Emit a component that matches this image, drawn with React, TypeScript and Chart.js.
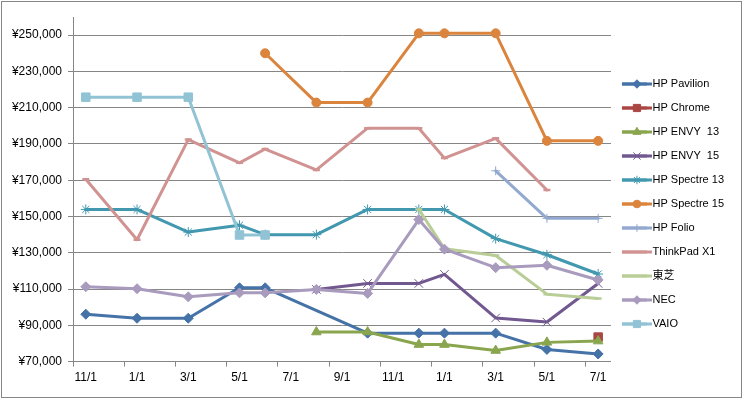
import React, { useEffect, useRef } from 'react';
import { Chart, registerables } from 'chart.js';
import { drawPoint } from 'chart.js/helpers';

Chart.register(...registerables);

// x positions of the observations, in months counted from the first "11/1"
const pointMonths = [0, 2, 4, 6, 7, 9, 11, 13, 14, 16, 18, 20];

// labelled ticks on the month axis
const tickMonths = [0, 2, 4, 6, 8, 10, 12, 14, 16, 18, 20];
const tickLabels = ['11/1', '1/1', '3/1', '5/1', '7/1', '9/1', '11/1', '1/1', '3/1', '5/1', '7/1'];

// y axis tick values
const yTicks = [70000, 90000, 110000, 130000, 150000, 170000, 190000, 210000, 230000, 250000];

const seriesNames = [
  'HP Pavilion', 'HP Chrome', 'HP ENVY  13', 'HP ENVY  15', 'HP Spectre 13', 'HP Spectre 15',
  'HP Folio', 'ThinkPad X1', '東芝', 'NEC', 'VAIO',
];

const hpPavilion = [96100, 93900, 93900, 110700, 110700, null, 85700, 85700, 85700, 85700, 76700, 74200];
const hpChrome = [null, null, null, null, null, null, null, null, null, null, null, 83500];
const hpEnvy13 = [null, null, null, null, null, 86300, 86300, 79400, 79400, 76100, 80600, 81300];
const hpEnvy15 = [null, null, null, null, null, 109800, 113100, 113100, 118100, 94100, 91800, 113100];
const hpSpectre13 = [153900, 153900, 141400, 145200, 140000, 140000, 153900, 153900, 153900, 137800, 128900, 118300];
const hpSpectre15 = [null, null, null, null, 240000, 212800, 212800, 251000, 251000, 251000, 191700, 191700];
const hpFolio = [null, null, null, null, null, null, null, null, null, 175200, 149000, 149000];
const thinkPadX1 = [170500, 137200, 192400, 179600, 187200, 175700, 198700, 198700, 182200, 193100, 164600, null];
const toshiba = [null, null, null, null, null, null, null, 153900, 132200, 128500, 107200, 104800];
const nec = [111300, 110200, 105700, 107900, 107900, 109800, 107600, 148300, 132000, 121800, 123100, 115000];
const vaio = [215800, 215800, 215800, 139800, 139800, null, null, null, null, null, null, null];

const seriesValues = [
  hpPavilion, hpChrome, hpEnvy13, hpEnvy15, hpSpectre13, hpSpectre15,
  hpFolio, thinkPadX1, toshiba, nec, vaio,
];

const seriesColors = [
  '#4572A7', '#AA4643', '#89A54E', '#71588F', '#4198AF', '#DB843D',
  '#93A9CF', '#D19392', '#B9CD96', '#A99BBD', '#91C3D5',
];

const seriesMarkers: { style: any; radius: number; border: number }[] = [
  { style: 'rectRot', radius: 5, border: 1 },
  { style: 'rect', radius: 6, border: 1 },
  { style: 'triangle', radius: 5.5, border: 1 },
  { style: 'crossRot', radius: 6, border: 1 },
  { style: 'star', radius: 5, border: 1 },
  { style: 'circle', radius: 4.5, border: 1 },
  { style: 'cross', radius: 4.5, border: 1 },
  { style: 'line', radius: 3.5, border: 2.5 },
  { style: 'line', radius: 3.5, border: 2.5 },
  { style: 'rectRot', radius: 5, border: 1 },
  { style: 'rect', radius: 6, border: 1 },
];

const GRID = '#868686';
const LEGEND_LINE = 30;

const frame = {
  id: 'frame',
  beforeDraw(chart: any) {
    const ctx = chart.ctx;
    ctx.save();
    ctx.fillStyle = '#ffffff';
    ctx.fillRect(0, 0, chart.width, chart.height);
    ctx.strokeStyle = GRID;
    ctx.lineWidth = 1;
    ctx.strokeRect(1.5, 1.5, chart.width - 3, chart.height - 3);
    ctx.restore();
  },
};

const legendShift = {
  id: 'legendShift',
  afterLayout(chart: any) {
    const lg = chart.legend;
    if (!lg) return;
    lg.top += 1;
    lg.bottom += 1;
    lg.left -= 2;
    lg.right -= 2;
  },
};

const legendMarkers = {
  id: 'legendMarkers',
  afterDraw(chart: any) {
    const legend = chart.legend;
    if (!legend || !legend.legendHitBoxes || !legend.legendItems) return;
    const ctx = chart.ctx;
    const fs = legend.options.labels.font.size;
    legend.legendItems.forEach((item: any, i: number) => {
      const hb = legend.legendHitBoxes[i];
      const ds: any = chart.data.datasets[item.datasetIndex];
      if (!hb || !ds) return;
      const cy = hb.top + fs / 2;
      ctx.save();
      ctx.strokeStyle = ds.borderColor;
      ctx.lineWidth = 3;
      ctx.beginPath();
      ctx.moveTo(hb.left, cy);
      ctx.lineTo(hb.left + LEGEND_LINE, cy);
      ctx.stroke();
      if (ds.pointRadius && ds.pointStyle !== 'line') {
        ctx.fillStyle = ds.pointBackgroundColor;
        ctx.strokeStyle = ds.pointBorderColor;
        ctx.lineWidth = ds.pointBorderWidth;
        drawPoint(ctx, { pointStyle: ds.pointStyle, radius: ds.pointRadius * 0.85, borderWidth: ds.pointBorderWidth, rotation: 0 } as any, hb.left + LEGEND_LINE / 2, cy);
      }
      ctx.restore();
    });
  },
};

export default function App() {
  const ref = useRef<HTMLCanvasElement | null>(null);

  useEffect(() => {
    if (!ref.current) return;
    Chart.defaults.font.family = '"Liberation Sans", Arial, "Noto Sans CJK JP", sans-serif';
    Chart.defaults.color = '#000000';

    const datasets = seriesNames.map((name, i) => ({
      label: name,
      data: seriesValues[i].map((v, j) => ({ x: pointMonths[j], y: v })),
      borderColor: seriesColors[i],
      backgroundColor: seriesColors[i],
      borderWidth: 3,
      borderJoinStyle: 'round' as const,
      borderCapStyle: 'round' as const,
      pointStyle: seriesMarkers[i].style,
      pointRadius: seriesMarkers[i].radius,
      pointHoverRadius: seriesMarkers[i].radius,
      pointBorderWidth: seriesMarkers[i].border,
      pointBackgroundColor: seriesColors[i],
      pointBorderColor: seriesColors[i],
      tension: 0,
      spanGaps: true,
      order: seriesNames.length - i,
    }));

    const chart = new Chart(ref.current, {
      type: 'line',
      data: { datasets },
      plugins: [frame, legendShift, legendMarkers],
      options: {
        animation: false,
        responsive: false,
        maintainAspectRatio: false,
        layout: { padding: { left: 0, top: 17, right: 7, bottom: 10 } },
        plugins: {
          tooltip: { enabled: false },
          legend: {
            position: 'right',
            labels: {
              boxWidth: 25,
              boxHeight: 3,
              padding: 13,
              font: { size: 11 },
              color: '#000000',
              generateLabels: (c: any) =>
                (Chart.defaults.plugins.legend.labels.generateLabels as any)(c).map((l: any) => ({
                  ...l,
                  fillStyle: l.strokeStyle,
                  lineWidth: 0,
                })),
              sort: (a: any, b: any) => a.datasetIndex - b.datasetIndex,
            },
          },
        },
        scales: {
          x: {
            type: 'linear',
            min: -0.5,
            max: 20.5,
            afterBuildTicks: (s: any) => {
              const t: { value: number }[] = [];
              tickMonths.forEach((m) => {
                t.push({ value: m - 0.5 });
                t.push({ value: m });
              });
              s.ticks = t.filter((k) => k.value <= 20);
            },
            ticks: {
              autoSkip: false,
              maxRotation: 0,
              minRotation: 0,
              padding: 4,
              font: { size: 12 },
              callback: (v: any) => {
                const i = tickMonths.indexOf(Number(v));
                return i >= 0 ? tickLabels[i] : '';
              },
            },
            grid: {
              drawOnChartArea: false,
              drawTicks: true,
              tickLength: 5,
              color: (c: any) => (c.tick && Number.isInteger(c.tick.value) ? 'rgba(0,0,0,0)' : GRID),
            },
            border: { color: GRID },
          },
          y: {
            min: 70000,
            max: 260000,
            afterBuildTicks: (s: any) => {
              s.ticks = yTicks.map((v) => ({ value: v }));
            },
            afterFit: (s: any) => {
              s.width = 73;
            },
            ticks: {
              padding: 6,
              font: { size: 12 },
              callback: (v: any) => '¥' + Number(v).toLocaleString('en-US'),
            },
            grid: { color: GRID, tickLength: 5 },
            border: { color: GRID },
          },
        },
      } as any,
    });
    return () => chart.destroy();
  }, []);

  return (
    <div style={{ position: 'fixed', left: 0, top: 0, width: 743, height: 399 }}>
      <canvas ref={ref} width={743} height={399} style={{ display: 'block' }} />
    </div>
  );
}
